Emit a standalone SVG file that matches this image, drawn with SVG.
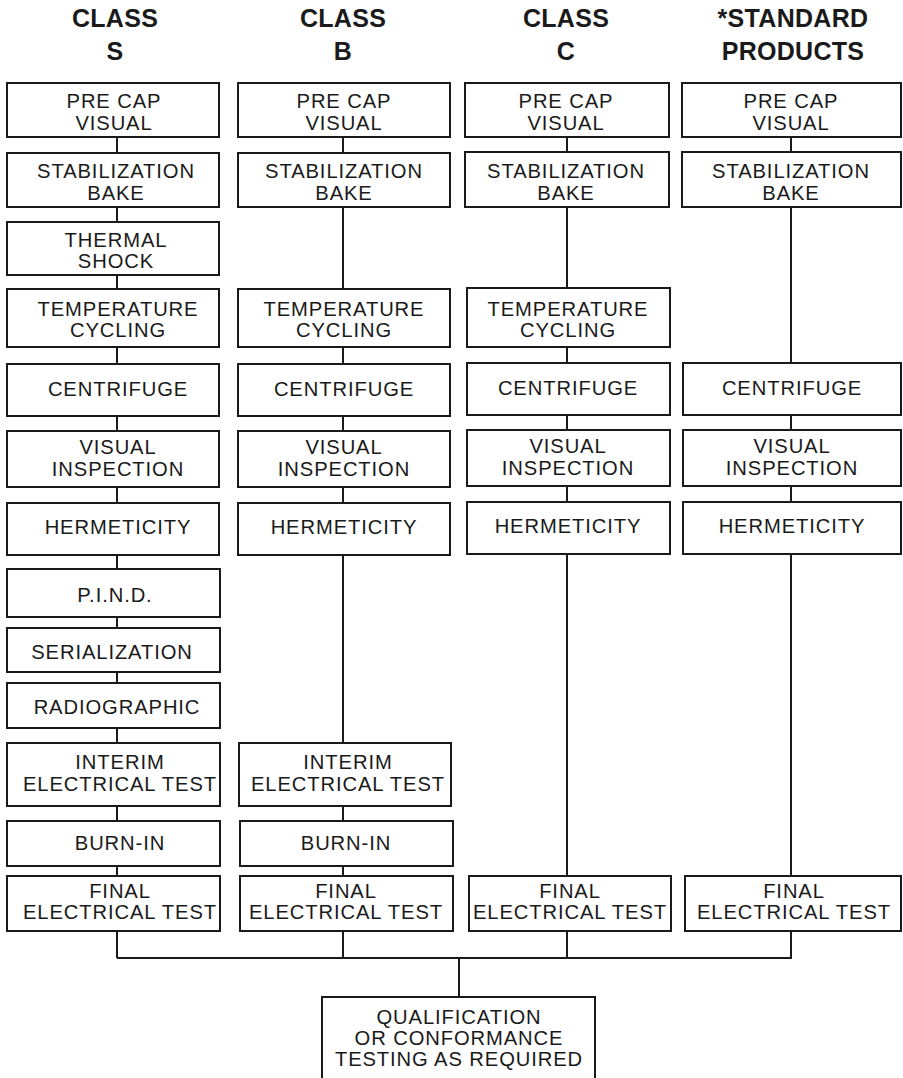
<svg xmlns="http://www.w3.org/2000/svg" width="903" height="1078" viewBox="0 0 903 1078">
<style>
rect{fill:#fff;stroke:#1a1a1a;stroke-width:2}
text{font-family:"Liberation Sans",Arial,sans-serif;font-size:20.2px;letter-spacing:0.9px;fill:#1a1a1a;text-anchor:middle}
.h{font-weight:bold;font-size:25px;letter-spacing:0.3px}
#connectors line,#connectors path{stroke:#1a1a1a;stroke-width:2;fill:none}
</style>
<rect x="0" y="0" width="903" height="1078" style="fill:#fff;stroke:none"/>
<g id="headers">
<text class="h" x="115" y="27">CLASS</text><text class="h" x="115" y="60">S</text>
<text class="h" x="343" y="27">CLASS</text><text class="h" x="343" y="60">B</text>
<text class="h" x="566" y="27">CLASS</text><text class="h" x="566" y="60">C</text>
<text class="h" x="793" y="27">*STANDARD</text><text class="h" x="793" y="60">PRODUCTS</text>
</g>
<g id="connectors">
<path d="M117 137V153M117 207V222M117 275V289M117 347V364M117 416V431M117 487V503M117 555V569M117 617V628M117 672V683M117 728V743M117 806V821M117 866V876M117 931V958"/>
<path d="M343 137V153M343 207V289M343 347V364M343 416V431M343 487V503M343 555V743M343 806V821M343 866V876M343 931V958"/>
<path d="M567 137V152M567 207V288M567 347V363M567 415V430M567 486V502M567 554V876M567 931V958"/>
<path d="M791 137V152M791 207V363M791 415V430M791 486V502M791 554V876M791 931V958"/>
<path d="M117 958H792M459 958V997"/>
</g>
<g id="s-precap"><rect x="7" y="83" width="212" height="54"/><text x="114" y="108">PRE CAP</text><text x="114" y="130">VISUAL</text></g>
<g id="s-stab"><rect x="7" y="153" width="212" height="54"/><text x="116" y="178">STABILIZATION</text><text x="116" y="200">BAKE</text></g>
<g id="s-thermal"><rect x="7" y="222" width="212" height="53"/><text x="116" y="247">THERMAL</text><text x="116" y="268">SHOCK</text></g>
<g id="s-temp"><rect x="7" y="289" width="212" height="58"/><text x="118" y="316">TEMPERATURE</text><text x="118" y="337">CYCLING</text></g>
<g id="s-centrifuge"><rect x="7" y="364" width="212" height="52"/><text x="118" y="396">CENTRIFUGE</text></g>
<g id="s-visual"><rect x="7" y="431" width="212" height="56"/><text x="118" y="454">VISUAL</text><text x="118" y="476">INSPECTION</text></g>
<g id="s-herm"><rect x="7" y="503" width="212" height="52"/><text x="118" y="534">HERMETICITY</text></g>
<g id="s-pind"><rect x="7" y="569" width="213" height="48"/><text x="115" y="602">P.I.N.D.</text></g>
<g id="s-serial"><rect x="7" y="628" width="213" height="44"/><text x="112" y="659">SERIALIZATION</text></g>
<g id="s-radio"><rect x="7" y="683" width="213" height="45"/><text x="117" y="714">RADIOGRAPHIC</text></g>
<g id="s-interim"><rect x="7" y="743" width="213" height="63"/><text x="120" y="769">INTERIM</text><text x="120" y="791">ELECTRICAL TEST</text></g>
<g id="s-burnin"><rect x="7" y="821" width="213" height="45"/><text x="120" y="850">BURN-IN</text></g>
<g id="s-final"><rect x="7" y="876" width="213" height="55"/><text x="120" y="898">FINAL</text><text x="120" y="919">ELECTRICAL TEST</text></g>
<g id="b-precap"><rect x="238" y="83" width="212" height="54"/><text x="344" y="108">PRE CAP</text><text x="344" y="130">VISUAL</text></g>
<g id="b-stab"><rect x="238" y="153" width="212" height="54"/><text x="344" y="178">STABILIZATION</text><text x="344" y="200">BAKE</text></g>
<g id="b-temp"><rect x="238" y="289" width="212" height="58"/><text x="344" y="316">TEMPERATURE</text><text x="344" y="337">CYCLING</text></g>
<g id="b-centrifuge"><rect x="238" y="364" width="212" height="52"/><text x="344" y="396">CENTRIFUGE</text></g>
<g id="b-visual"><rect x="238" y="431" width="212" height="56"/><text x="344" y="454">VISUAL</text><text x="344" y="476">INSPECTION</text></g>
<g id="b-herm"><rect x="238" y="503" width="212" height="52"/><text x="344" y="534">HERMETICITY</text></g>
<g id="b-interim"><rect x="239" y="743" width="212" height="63"/><text x="348" y="769">INTERIM</text><text x="348" y="791">ELECTRICAL TEST</text></g>
<g id="b-burnin"><rect x="240" y="821" width="213" height="45"/><text x="346" y="850">BURN-IN</text></g>
<g id="b-final"><rect x="240" y="876" width="213" height="55"/><text x="346" y="898">FINAL</text><text x="346" y="919">ELECTRICAL TEST</text></g>
<g id="c-precap"><rect x="465" y="83" width="204" height="54"/><text x="566" y="108">PRE CAP</text><text x="566" y="130">VISUAL</text></g>
<g id="c-stab"><rect x="465" y="152" width="204" height="55"/><text x="566" y="178">STABILIZATION</text><text x="566" y="200">BAKE</text></g>
<g id="c-temp"><rect x="467" y="288" width="203" height="59"/><text x="568" y="316">TEMPERATURE</text><text x="568" y="337">CYCLING</text></g>
<g id="c-centrifuge"><rect x="467" y="363" width="203" height="52"/><text x="568" y="395">CENTRIFUGE</text></g>
<g id="c-visual"><rect x="467" y="430" width="203" height="56"/><text x="568" y="453">VISUAL</text><text x="568" y="475">INSPECTION</text></g>
<g id="c-herm"><rect x="467" y="502" width="203" height="52"/><text x="568" y="533">HERMETICITY</text></g>
<g id="c-final"><rect x="469" y="876" width="202" height="55"/><text x="570" y="898">FINAL</text><text x="570" y="919">ELECTRICAL TEST</text></g>
<g id="p-precap"><rect x="682" y="83" width="219" height="54"/><text x="791" y="108">PRE CAP</text><text x="791" y="130">VISUAL</text></g>
<g id="p-stab"><rect x="682" y="152" width="219" height="55"/><text x="791" y="178">STABILIZATION</text><text x="791" y="200">BAKE</text></g>
<g id="p-centrifuge"><rect x="683" y="363" width="218" height="52"/><text x="792" y="395">CENTRIFUGE</text></g>
<g id="p-visual"><rect x="683" y="430" width="218" height="56"/><text x="792" y="453">VISUAL</text><text x="792" y="475">INSPECTION</text></g>
<g id="p-herm"><rect x="683" y="502" width="218" height="52"/><text x="792" y="533">HERMETICITY</text></g>
<g id="p-final"><rect x="685" y="876" width="216" height="55"/><text x="794" y="898">FINAL</text><text x="794" y="919">ELECTRICAL TEST</text></g>
<g id="qualification"><rect x="322" y="997" width="273" height="85"/><text x="459" y="1024">QUALIFICATION</text><text x="459" y="1045">OR CONFORMANCE</text><text x="459" y="1066">TESTING AS REQUIRED</text></g>
</svg>
